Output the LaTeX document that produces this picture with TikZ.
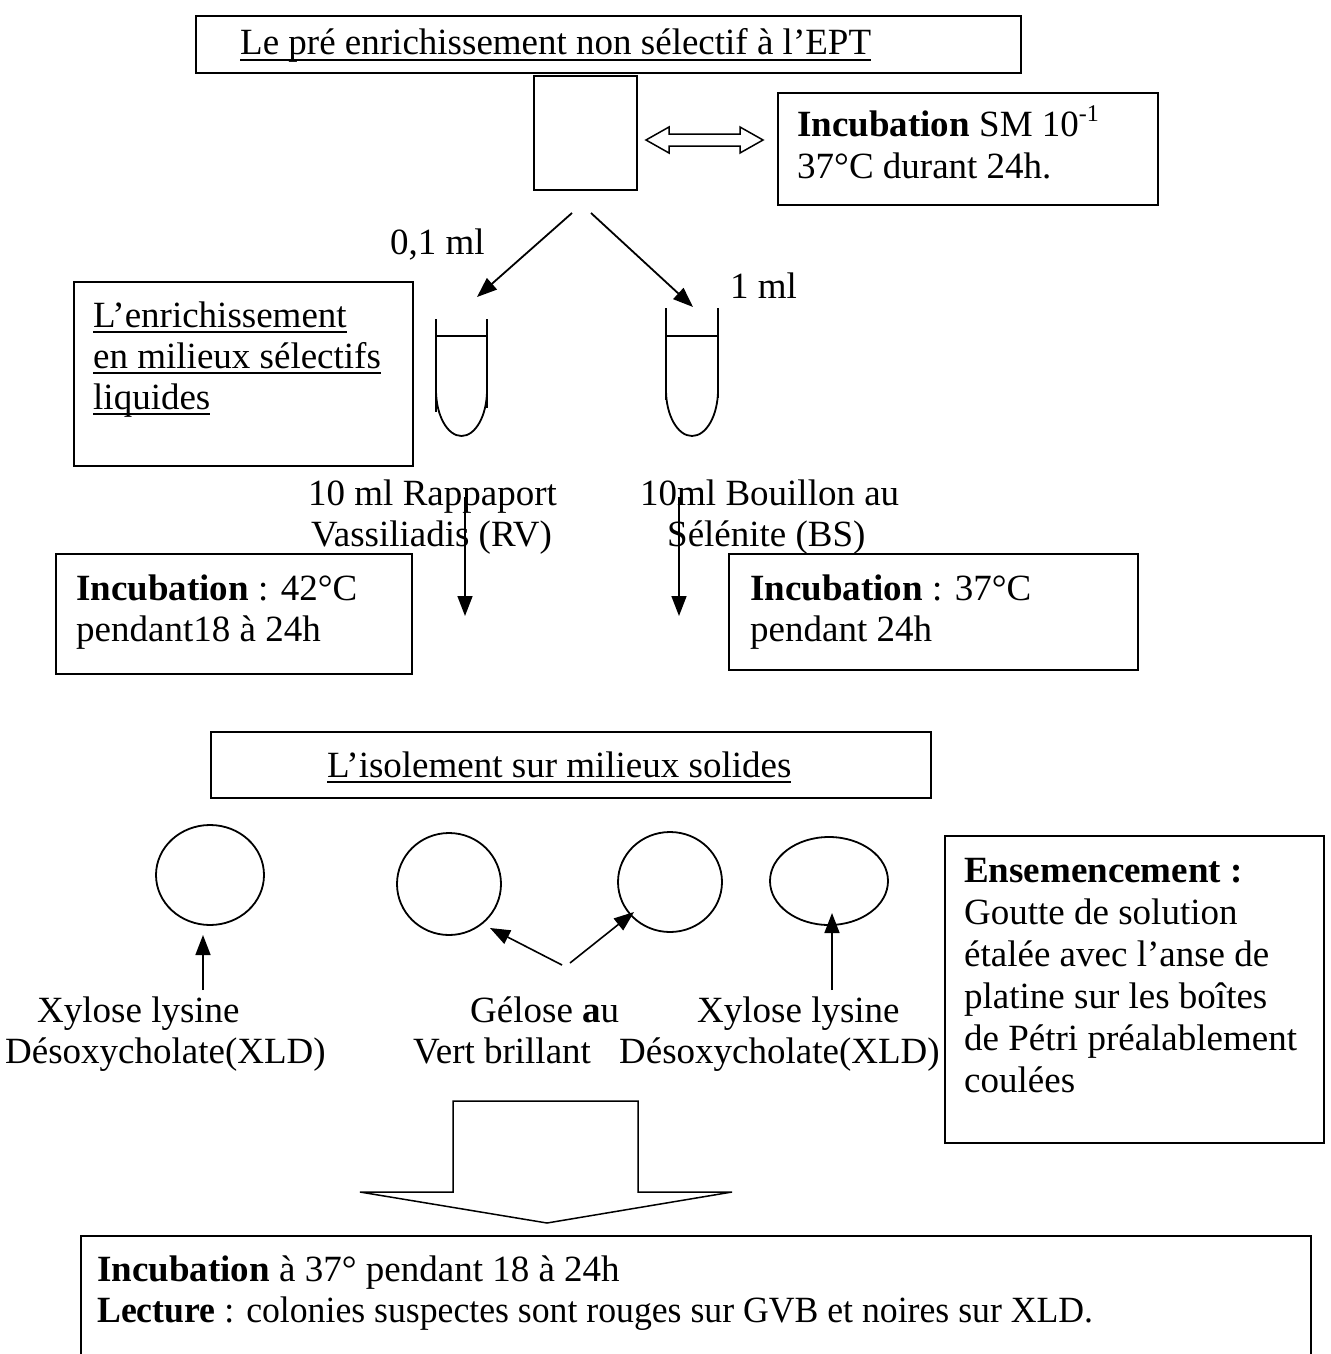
\documentclass[tikz,border=0pt]{standalone}
\usepackage{fontspec}
\setmainfont{Liberation Serif}
\usetikzlibrary{arrows.meta,shapes.geometric}
\newcommand\myul[1]{\setbox0\hbox{#1}\rlap{\rule[-6pt]{\wd0}{2pt}}\box0}
\newcommand\mysup[1]{\raisebox{15pt}{\fontsize{24}{24}\selectfont #1}}
\tikzset{
  box/.style={draw, line width=1.8pt, inner sep=0pt, anchor=north west},
  txt/.style={anchor=base west, inner sep=0pt, font=\fontsize{37}{41.6}\selectfont},
  ln/.style={line width=1.8pt},
  arr/.style={line width=1.8pt, -{Triangle[length=20pt,width=15pt]}},
  plate/.style={draw, ellipse, line width=1.8pt, inner sep=0pt}
}
\begin{document}
\begin{tikzpicture}[x=1pt,y=-1pt]
\useasboundingbox (0,0) rectangle (1330,1354);
\clip (0,0) rectangle (1330,1354);
% top box
\node[box, minimum width=825pt, minimum height=57pt] (b1) at (195,15) {};
\node[txt] (t1) at (240,55) {\myul{Le pré enrichissement non sélectif à l’EPT}};
% square
\node[box, minimum width=103pt, minimum height=114pt] (sq) at (533,75) {};
% double hollow arrow
\draw[ln, line width=1.5pt, line join=miter] (646,140) -- (669,127) -- (669,134) -- (740,134) -- (740,127) -- (763,140) -- (740,153) -- (740,146) -- (669,146) -- (669,153) -- cycle;
% incubation box
\node[box, minimum width=380pt, minimum height=112pt] (b2) at (777,92) {};
\node[txt] (t2a) at (797,136) {\textbf{Incubation} SM 10\mysup{-1}};
\node[txt] (t2b) at (797,178) {37°C durant 24h.};
% arrows to tubes
\coordinate (a1s) at (572,213);
\coordinate (a1e) at (477,297);
\coordinate (a2s) at (591,213);
\coordinate (a2e) at (693,307);
\draw[arr] (a1s) -- (a1e);
\draw[arr] (a2s) -- (a2e);
\node[txt] (l1) at (390,254) {0,1 ml};
\node[txt] (l2) at (730,298) {1 ml};
% enrichment box
\node[box, minimum width=339pt, minimum height=184pt] (b3) at (73,281) {};
\node[txt] (t3a) at (93,327) {\myul{L’enrichissement}};
\node[txt] (t3b) at (93,368) {\myul{en milieux sélectifs}};
\node[txt] (t3c) at (93,409) {\myul{liquides}};
% tubes
\draw[ln] (436,319) -- (436,412);
\draw[ln] (487,319) -- (487,408);
\draw[ln] (436,336) -- (487,336);
\draw[ln] (436,390) arc[start angle=180, end angle=360, x radius=25.5pt, y radius=46pt];
\draw[ln] (666,308) -- (666,400);
\draw[ln] (718,308) -- (718,398);
\draw[ln] (666,336) -- (718,336);
\draw[ln] (666,390) arc[start angle=180, end angle=360, x radius=26pt, y radius=46pt];
\node[txt] (t4a) at (308,505) {10 ml Rappaport};
\node[txt] (t4b) at (311,546) {Vassiliadis (RV)};
\node[txt] (t5a) at (640,505) {10ml Bouillon au};
\node[txt] (t5b) at (667,546) {Sélénite (BS)};
\coordinate (v1s) at (465,497);
\coordinate (v1e) at (465,616);
\coordinate (v2s) at (679,497);
\coordinate (v2e) at (679,616);
\draw[arr, line width=1.6pt] (v1s) -- (v1e);
\draw[arr, line width=1.6pt] (v2s) -- (v2e);
% incubation boxes
\node[box, minimum width=356pt, minimum height=120pt] (b4) at (55,553) {};
\node[txt] (t6a) at (76,600) {\textbf{Incubation} : 42°C};
\node[txt] (t6b) at (76,641) {pendant18 à 24h};
\node[box, minimum width=409pt, minimum height=116pt] (b5) at (728,553) {};
\node[txt] (t7a) at (750,600) {\textbf{Incubation} : 37°C};
\node[txt] (t7b) at (750,641) {pendant 24h};
% isolation box
\node[box, minimum width=720pt, minimum height=66pt] (b6) at (210,731) {};
\node[txt] (t8) at (327,777) {\myul{L’isolement sur milieux solides}};
% plates
\node[plate, minimum width=108pt, minimum height=100pt] (c1) at (210,875) {};
\node[plate, minimum width=104pt, minimum height=102pt] (c2) at (449,884) {};
\node[plate, minimum width=104pt, minimum height=100pt] (c3) at (670,882) {};
\node[plate, minimum width=118pt, minimum height=88pt] (c4) at (829,881) {};
\coordinate (p1s) at (203,990);
\coordinate (p1e) at (203,935);
\coordinate (p2s) at (562,965);
\coordinate (p2e) at (490,928);
\coordinate (p3s) at (570,963);
\coordinate (p3e) at (634,912);
\coordinate (p4s) at (832,990);
\coordinate (p4e) at (832,913);
\draw[arr, line width=1.6pt] (p1s) -- (p1e);
\draw[arr, line width=1.6pt] (p2s) -- (p2e);
\draw[arr, line width=1.6pt] (p3s) -- (p3e);
\draw[arr, line width=1.6pt] (p4s) -- (p4e);
\node[txt] (t9a) at (37,1022) {Xylose lysine};
\node[txt] (t9b) at (5,1063) {Désoxycholate(XLD)};
\node[txt] (t10a) at (470,1022) {Gélose \textbf{a}u};
\node[txt] (t10b) at (413,1063) {Vert brillant};
\node[txt] (t11a) at (697,1022) {Xylose lysine};
\node[txt] (t11b) at (619,1063) {Désoxycholate(XLD)};
% ensemencement box
\node[box, minimum width=379pt, minimum height=307pt] (b7) at (944,835) {};
\node[txt] (t12a) at (964,882) {\textbf{Ensemencement :}};
\node[txt] (t12b) at (964,924) {Goutte de solution};
\node[txt] (t12c) at (964,966) {étalée avec l’anse de};
\node[txt] (t12d) at (964,1008) {platine sur les boîtes};
\node[txt] (t12e) at (964,1050) {de Pétri préalablement};
\node[txt] (t12f) at (964,1092) {coulées};
% block arrow
\draw[ln, line width=1.5pt, line join=miter] (453,1101) -- (638,1101) -- (638,1192) -- (732,1192) -- (547,1223) -- (360,1192) -- (453,1192) -- cycle;
% bottom box
\node[box, minimum width=1230pt, minimum height=160pt] (b8) at (80,1235) {};
\node[txt] (t13a) at (97,1281) {\textbf{Incubation} à 37° pendant 18 à 24h};
\node[txt] (t13b) at (97,1322) {\scalebox{0.965}[1]{\textbf{Lecture} : colonies suspectes sont rouges sur GVB et noires sur XLD.}};
\end{tikzpicture}
\end{document}
